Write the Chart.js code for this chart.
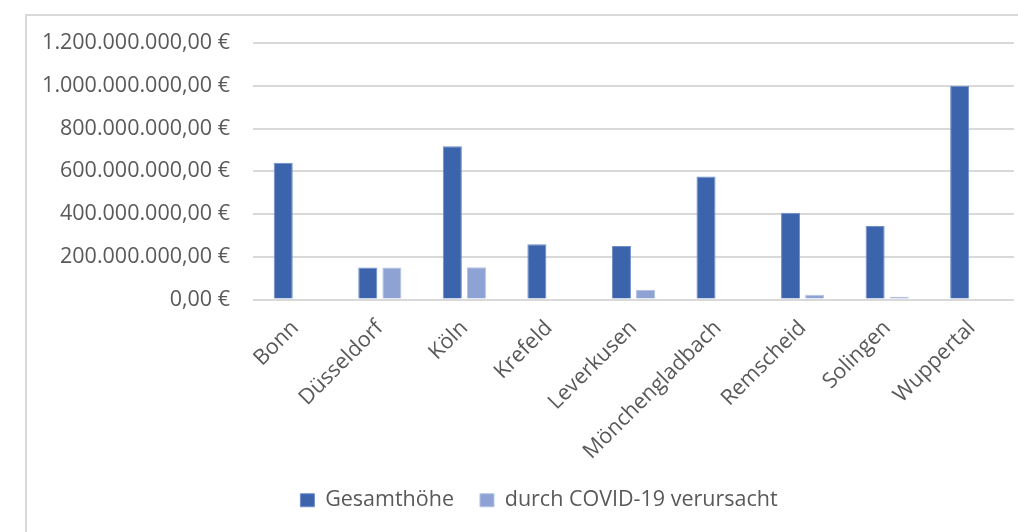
<!DOCTYPE html>
<html lang="de">
<head>
<meta charset="utf-8">
<title>Gesamthöhe und durch COVID-19 verursacht</title>
<script src="https://cdn.jsdelivr.net/npm/chart.js@4.4.1/dist/chart.umd.min.js"></script>
<style>
  html, body { margin: 0; padding: 0; background: #ffffff; }
  #wrap { position: relative; width: 1018px; height: 532px; overflow: hidden; }
  #frame {
    position: absolute; left: 25px; top: 14px; width: 1100px; height: 600px;
    border-left: 2px solid #d9d9d9; border-top: 2px solid #d9d9d9;
    box-sizing: border-box;
  }
  #chart { position: absolute; left: 0; top: 0; }
</style>
</head>
<body>
<div id="wrap">
  <div id="frame"></div>
  <canvas id="chart" width="1018" height="532"></canvas>
</div>
<script>
// Städte (Kategorien)
const staedte = ['Bonn', 'Düsseldorf', 'Köln', 'Krefeld', 'Leverkusen',
                 'Mönchengladbach', 'Remscheid', 'Solingen', 'Wuppertal'];

// Beträge in Euro
const gesamthoehe = [640000000, 150000000, 717000000, 259000000, 250000000,
                     575000000, 406000000, 344000000, 1000000000];
const durchCovid  = [0, 150000000, 151000000, 0, 45000000,
                     0, 22000000, 13000000, 0];

// Achsenteilung
const yMin = 0;
const yMax = 1200000000;
const yStep = 200000000;

const serienNamen = ['Gesamthöhe', 'durch COVID-19 verursacht'];

// Deutsches Währungsformat: 1.200.000.000,00 €
function euro(v) {
  const [ganz, dez] = Math.abs(v).toFixed(2).split('.');
  const mitPunkten = ganz.replace(/\B(?=(\d{3})+(?!\d))/g, '.');
  return (v < 0 ? '-' : '') + mitPunkten + ',' + dez + ' €';
}

const textFarbe = '#595959';
const gitterFarbe = '#d9d9d9';
const schrift = '"Open Sans", Lato, "DejaVu Sans", sans-serif';
const schriftGroesse = 21.5;

// Legende etwas nach rechts versetzen
const legendeVersatz = {
  id: 'legendeVersatz',
  afterLayout(chart) {
    if (chart.legend) {
      chart.legend.left += 32;
      chart.legend.right += 32;
    }
  }
};

new Chart(document.getElementById('chart'), {
  type: 'bar',
  data: {
    labels: staedte,
    datasets: [
      {
        label: serienNamen[0],
        data: gesamthoehe,
        backgroundColor: '#3b64ad',
        borderColor: '#6f8dc8',
        borderWidth: 1,
        borderSkipped: 'start',
        categoryPercentage: 0.57,
        barPercentage: 0.79
      },
      {
        label: serienNamen[1],
        data: durchCovid,
        backgroundColor: '#8ea2d4',
        borderColor: '#b3c1e5',
        borderWidth: 1,
        borderSkipped: 'start',
        categoryPercentage: 0.57,
        barPercentage: 0.79
      }
    ]
  },
  plugins: [legendeVersatz],
  options: {
    responsive: false,
    animation: false,
    layout: { padding: { left: 0, right: 4, top: 43, bottom: 11 } },
    plugins: {
      tooltip: { enabled: false },
      legend: {
        position: 'bottom',
        labels: {
          color: textFarbe,
          font: { family: schrift, size: schriftGroesse },
          boxWidth: 14,
          boxHeight: 13,
          padding: 26
        }
      }
    },
    scales: {
      x: {
        grid: { display: false },
        border: { display: false },
        ticks: {
          color: textFarbe,
          font: { family: schrift, size: schriftGroesse },
          minRotation: 45,
          maxRotation: 45,
          padding: 8,
          autoSkip: false
        },
        afterFit(scale) { scale.height = 164; }
      },
      y: {
        min: yMin,
        max: yMax,
        border: { display: false },
        grid: { color: gitterFarbe, lineWidth: 2, drawTicks: false },
        ticks: {
          stepSize: yStep,
          color: textFarbe,
          font: { family: schrift, size: schriftGroesse },
          padding: 23,
          callback: (v) => euro(v)
        },
        afterFit(scale) { scale.width = 253; }
      }
    }
  }
});
</script>
</body>
</html>
